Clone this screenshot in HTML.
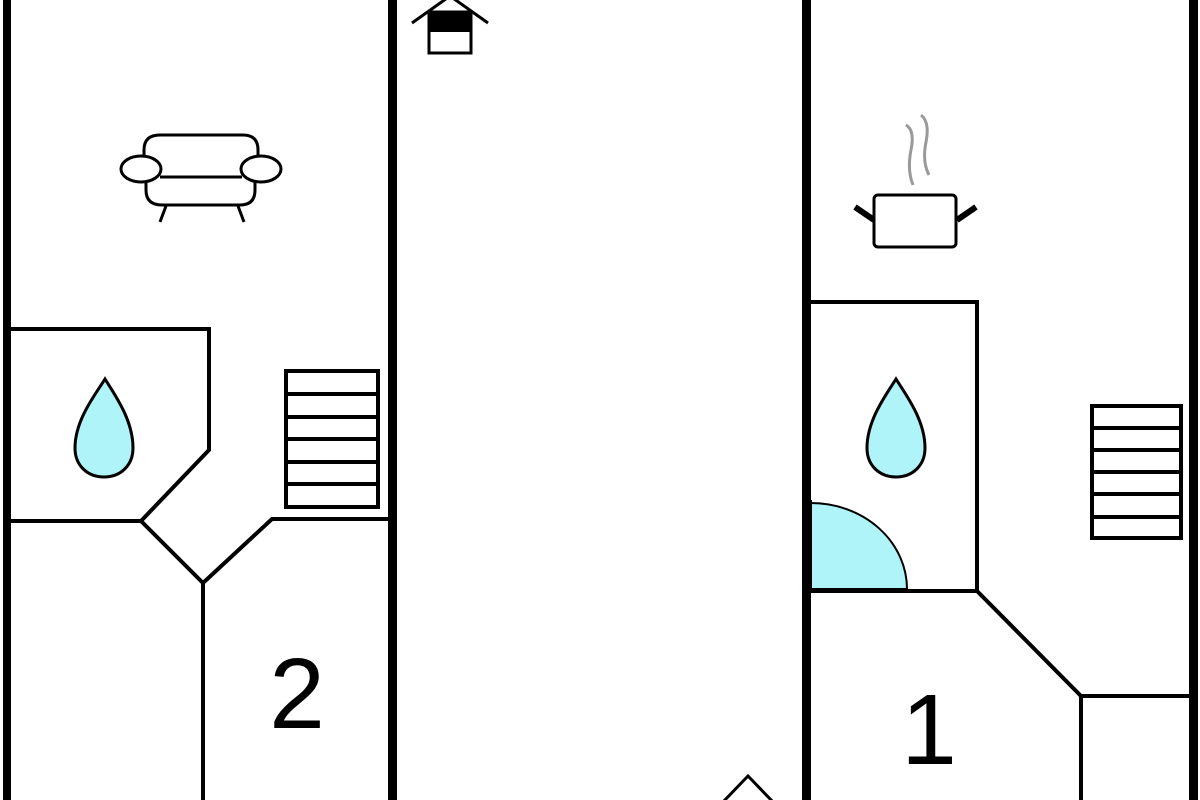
<!DOCTYPE html>
<html><head><meta charset="utf-8"><style>html,body{margin:0;padding:0;background:#fff}svg{display:block}</style></head>
<body>
<svg width="1200" height="800" viewBox="0 0 1200 800" xmlns="http://www.w3.org/2000/svg">
<rect width="1200" height="800" fill="#fff"/>
<g fill="#000">
<rect x="3" y="0" width="8" height="800"/>
<rect x="388" y="0" width="9" height="800"/>
<rect x="802" y="0" width="9" height="800"/>
<rect x="1189" y="0" width="9" height="800"/>
</g>
<g fill="none" stroke="#000" stroke-width="4" stroke-linejoin="miter">
<polyline points="11,329 209,329 209,450 141,521 11,521"/>
<polyline points="141,521 203,583 272,519 388,519"/>
<line x1="203" y1="583" x2="203" y2="800"/>
<rect x="286" y="371" width="92" height="136"/>
<line x1="286" y1="394" x2="378" y2="394"/>
<line x1="286" y1="417" x2="378" y2="417"/>
<line x1="286" y1="439" x2="378" y2="439"/>
<line x1="286" y1="462" x2="378" y2="462"/>
<line x1="286" y1="484" x2="378" y2="484"/>
<polyline points="811,302 977,302 977,591 811,591"/>
<polyline points="977,591 1081,696 1189,696"/>
<line x1="1081" y1="696" x2="1081" y2="800"/>
<rect x="1092" y="406" width="89" height="132"/>
<line x1="1092" y1="428" x2="1181" y2="428"/>
<line x1="1092" y1="450" x2="1181" y2="450"/>
<line x1="1092" y1="472" x2="1181" y2="472"/>
<line x1="1092" y1="494" x2="1181" y2="494"/>
<line x1="1092" y1="517" x2="1181" y2="517"/>
</g>
<path d="M811,589 L811,503 A96,86 0 0 1 907,589 Z" fill="#aef4f8" stroke="#000" stroke-width="2"/>
<rect x="807" y="500" width="5" height="92" fill="#000"/>
<path d="M105,379 C95,395 75,420 75,448 C75,466 88,477 104,477 C120,477 133,466 133,448 C133,420 115,395 105,379 Z" fill="#aef4f8" stroke="#000" stroke-width="3"/>
<path d="M896,379 C886,395 867,420 867,448 C867,466 880,477 896,477 C912,477 925,466 925,448 C925,420 906,395 896,379 Z" fill="#aef4f8" stroke="#000" stroke-width="3"/>
<g fill="#fff" stroke="#000" stroke-width="3">
<path d="M144,170 L144,150 Q144,135 160,135 L243,135 Q258,135 258,150 L258,170"/>
<path d="M146,178 L146,190 Q146,205 162,205 L240,205 Q255,205 255,190 L255,178"/>
<line x1="160" y1="177" x2="242" y2="177"/>
<ellipse cx="141" cy="169" rx="20" ry="13"/>
<ellipse cx="261" cy="169" rx="20" ry="13"/>
<line x1="166" y1="206" x2="160" y2="222"/>
<line x1="238" y1="206" x2="244" y2="222"/>
</g>
<g stroke="#000" fill="none">
<rect x="874" y="195" width="82" height="52" rx="4" stroke-width="3" fill="#fff"/>
<line x1="855" y1="207" x2="874" y2="220" stroke-width="6"/>
<line x1="976" y1="207" x2="957" y2="220" stroke-width="6"/>
</g>
<g stroke="#999" stroke-width="3" fill="none">
<path d="M906,125 Q915,130 911,150 Q907,170 913,185"/>
<path d="M921,115 Q930,122 926,142 Q922,162 929,175"/>
</g>
<g stroke="#000" fill="none" stroke-width="3">
<polyline points="412,23 450,-4 488,23"/>
<rect x="429" y="12" width="42" height="41" fill="#fff"/>
</g>
<rect x="429" y="12" width="42" height="20" fill="#000"/>
<polyline points="722,803 748,776 774,803" fill="none" stroke="#000" stroke-width="3"/>
<text x="297" y="728" font-family="Liberation Sans, sans-serif" font-size="100" text-anchor="middle" fill="#000">2</text>
<text x="929" y="764" font-family="Liberation Sans, sans-serif" font-size="100" text-anchor="middle" fill="#000">1</text>
</svg>
</body></html>
